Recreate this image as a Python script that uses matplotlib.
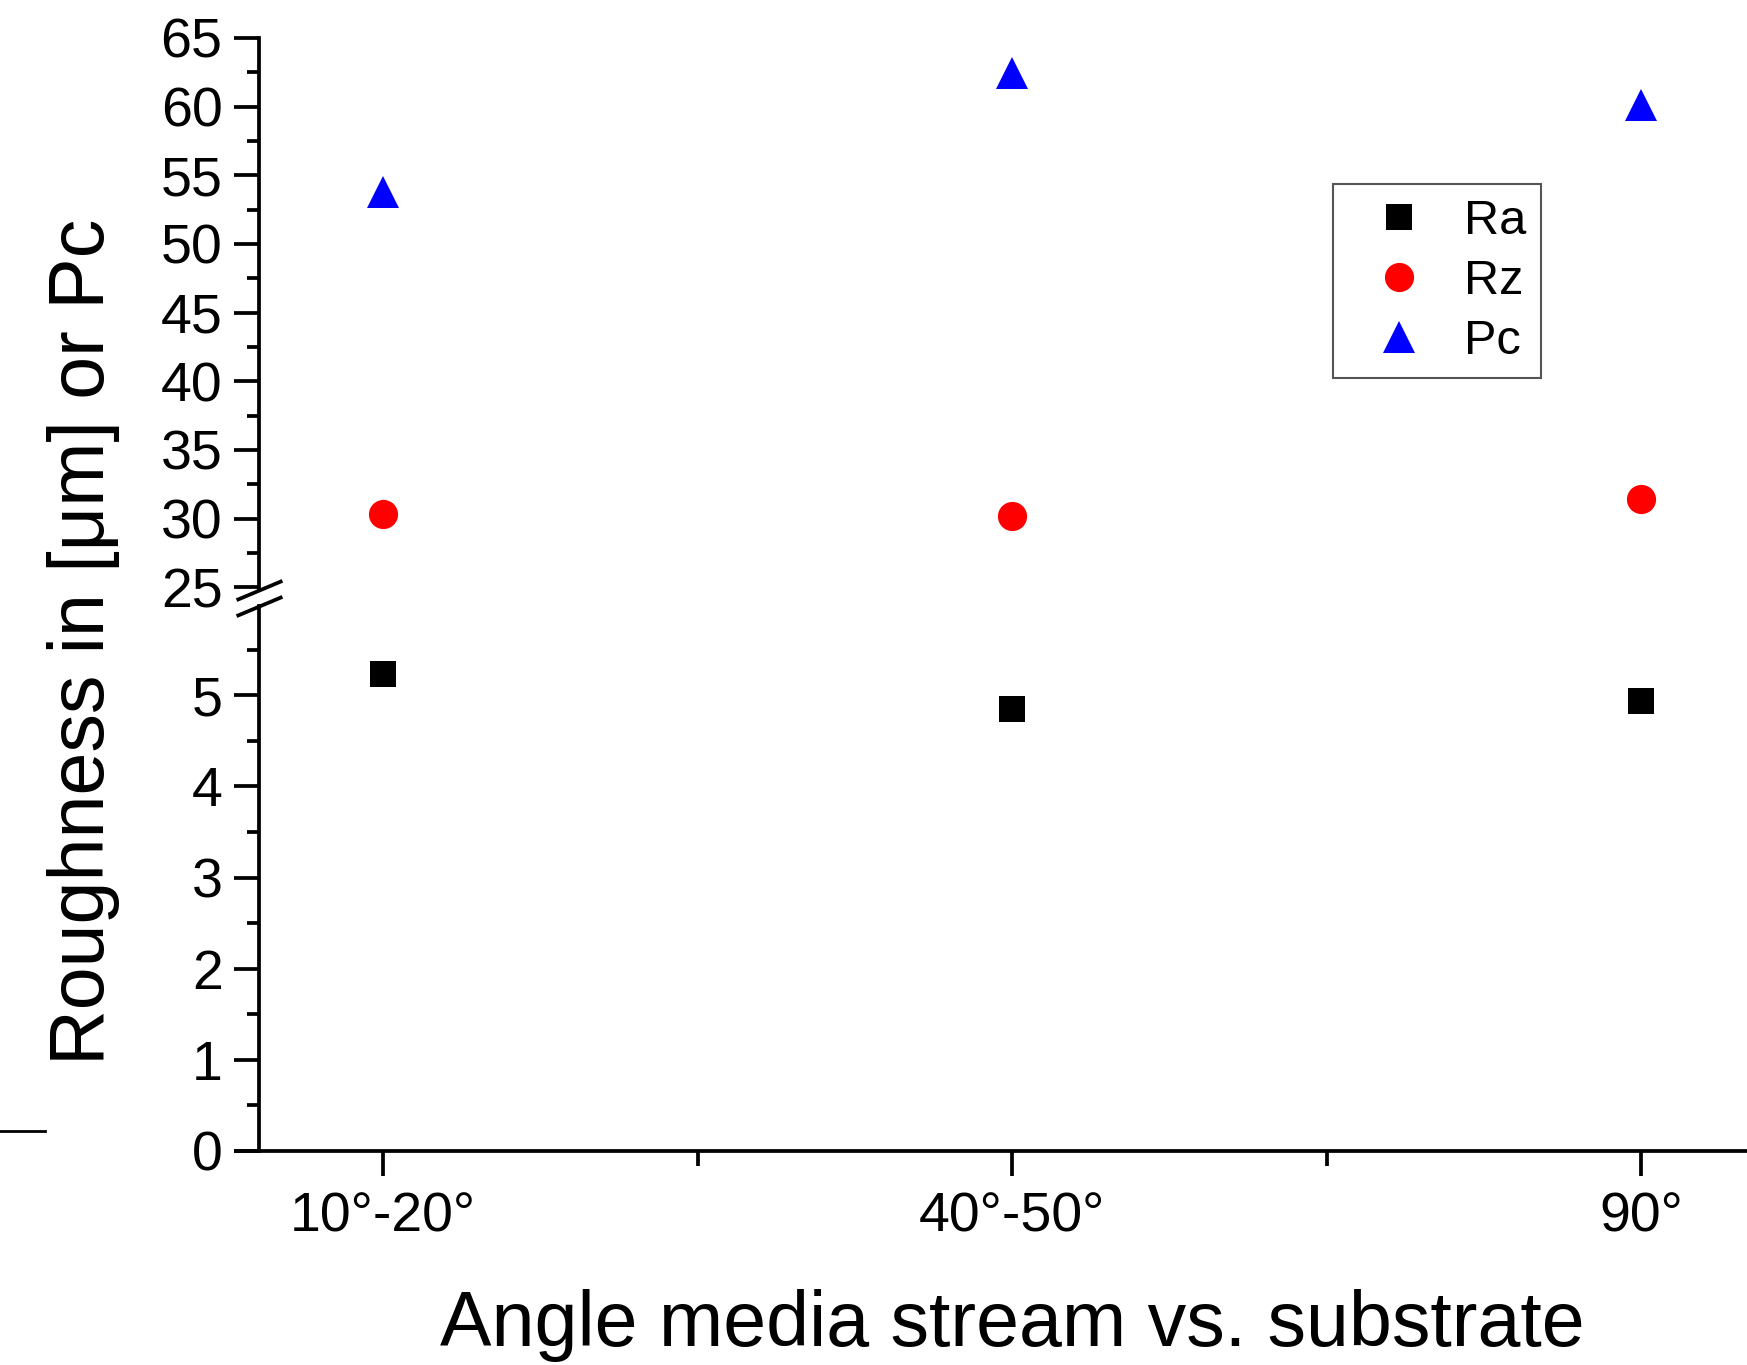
import matplotlib.pyplot as plt
from matplotlib.ticker import MultipleLocator

# values
angles = ["10°-20°", "40°-50°", "90°"]
x_pos = [1, 2, 3]
ra = [5.23, 4.85, 4.94]
rz = [30.3, 30.2, 31.4]
pc = [53.75, 62.45, 60.15]

plt.rcParams['font.family'] = ['Liberation Sans', 'DejaVu Sans']

fig = plt.figure(figsize=(17.47, 13.65), dpi=100)
# broken y axis: upper part 25..65, lower part 0..6
ax_up = fig.add_axes([0.1351, 0.5678, 0.8886, 0.9722 - 0.5678])
ax_lo = fig.add_axes([0.1351, 0.1568, 0.8886, 0.5560 - 0.1568])

x_min, x_max = 0.766, 3.234
spine_x = 0.802

for ax in (ax_up, ax_lo):
    ax.plot(x_pos, ra, 's', color='black', ms=19, mew=0, label='Ra')
    ax.plot(x_pos, rz, 'o', color='red', ms=21, mew=0, label='Rz')
    ax.plot(x_pos, pc, '^', color='blue', ms=23, mew=0, label='Pc')
    ax.set_xlim(x_min, x_max)
    ax.spines['top'].set_visible(False)
    ax.spines['right'].set_visible(False)
    ax.spines['left'].set_position(('data', spine_x))
    ax.spines['left'].set_linewidth(2.7)
    ax.spines['bottom'].set_linewidth(2.7)
    ax.tick_params(axis='both', which='major', length=18, width=2.7, labelsize=40, pad=8)
    ax.tick_params(axis='y', which='minor', length=9, width=2.7)
    ax.patch.set_visible(False)

# upper part
ax_up.set_ylim(24.8, 65)
ax_up.set_yticks(range(25, 66, 5))
ax_up.yaxis.set_minor_locator(MultipleLocator(2.5))
ax_up.spines['bottom'].set_visible(False)
ax_up.tick_params(axis='x', which='both', bottom=False, labelbottom=False)

# lower part
ax_lo.set_ylim(0, 5.98)
ax_lo.set_yticks(range(0, 6))
ax_lo.yaxis.set_minor_locator(MultipleLocator(0.5))
ax_lo.set_xticks(x_pos)
ax_lo.set_xticklabels(angles)
ax_lo.set_xticks([1.5, 2.5], minor=True)
ax_lo.tick_params(axis='x', which='minor', length=11, width=2.7)
ax_lo.tick_params(axis='x', which='major', pad=11)

ax_lo.set_xlabel('Angle media stream vs. substrate', fontsize=55.5)
ax_lo.xaxis.set_label_coords(0.5, -0.358)
ax_lo.xaxis.label.set_va('baseline')

fig.text(0.048, 0.530, 'Roughness in [μm] or Pc', rotation=90, fontsize=55.5,
         ha='center', va='center')

# break marks on the y axis
sx = (spine_x - x_min) / (x_max - x_min)
kw = dict(marker=[(-1, -0.42), (1, 0.42)], markersize=33, linestyle='none',
          color='black', mec='black', mew=2.7, clip_on=False)
ax_up.plot([sx], [0], transform=ax_up.transAxes, **kw)
ax_lo.plot([sx], [1], transform=ax_lo.transAxes, **kw)

handles, labels = ax_lo.get_legend_handles_labels()
leg = fig.legend(handles, labels, loc='upper left', bbox_to_anchor=(0.763, 0.8652),
                 bbox_transform=fig.transFigure, fontsize=35, borderaxespad=0,
                 borderpad=0.3, handlelength=2.1, handletextpad=0.3,
                 labelspacing=0.31, fancybox=False, framealpha=1)
leg.get_frame().set_edgecolor('#555555')
leg.get_frame().set_linewidth(1.5)

# stray dash at the left edge of the original image
fig.add_artist(plt.Line2D([0, 0.026], [0.1714, 0.1714], color='black', lw=2))

fig.savefig('out.png', dpi=100)
